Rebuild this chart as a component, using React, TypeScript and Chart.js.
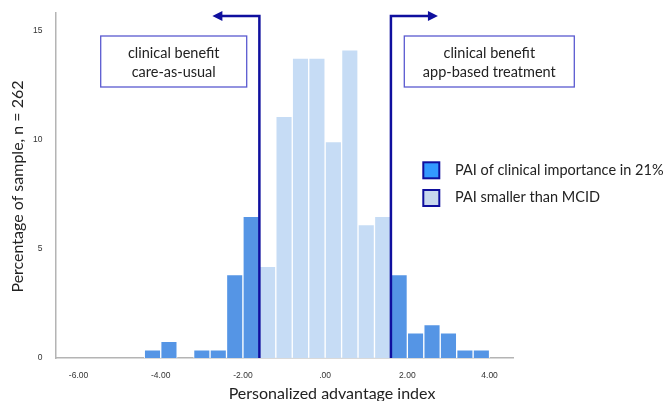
import React, { useEffect, useRef } from "react";
import { Chart, registerables } from "chart.js";

Chart.register(...registerables);

// Histogram bins (width 0.4) of the personalized advantage index
const binCenters = [
  -4.2, -3.8, -3.4, -3.0, -2.6, -2.2, -1.8, -1.4, -1.0, -0.6, -0.2,
  0.2, 0.6, 1.0, 1.4, 1.8, 2.2, 2.6, 3.0, 3.4, 3.8,
];
const percentOfSample = [
  0.38, 0.76, 0, 0.38, 0.38, 3.82, 6.49, 4.2, 11.07, 13.74, 13.74,
  9.92, 14.12, 6.11, 6.49, 3.82, 1.15, 1.53, 1.15, 0.38, 0.38,
];
const xTickValues = [-6, -4, -2, 0, 2, 4];
const yTickValues = [0, 5, 10, 15];
const mcidThresholds = [-1.6, 1.6];
const legendLabels = ["PAI of clinical importance in 21%", "PAI smaller than MCID"];
const boxLabels = [
  ["clinical benefit", "care-as-usual"],
  ["clinical benefit", "app-based treatment"],
];
const xTitle = "Personalized advantage index";
const yTitle = "Percentage of sample, n = 262";

const DARK = "#5595e5";
const LIGHT = "#c6dcf5";
const NAVY = "#0f0f9e";
const BOX = "#5a5ad0";
const TEXT = "#222222";
const FONT = "Lato, 'Open Sans', sans-serif";

const overlay = {
  id: "overlay",
  afterDraw(chart: any) {
    const { ctx } = chart;
    const x = chart.scales.x;
    const y = chart.scales.y;
    ctx.save();

    // MCID lines with arrows
    const yBottom = y.getPixelForValue(0);
    const yTop = 16;
    mcidThresholds.forEach((t) => {
      const px = x.getPixelForValue(t);
      const dir = t < 0 ? -1 : 1;
      const tip = px + dir * 47;
      ctx.strokeStyle = NAVY;
      ctx.lineWidth = 2.5;
      ctx.lineJoin = "miter";
      ctx.beginPath();
      ctx.moveTo(px, yBottom);
      ctx.lineTo(px, yTop);
      ctx.lineTo(tip - dir * 8, yTop);
      ctx.stroke();
      ctx.fillStyle = NAVY;
      ctx.beginPath();
      ctx.moveTo(tip, yTop);
      ctx.lineTo(tip - dir * 10, yTop - 5);
      ctx.lineTo(tip - dir * 10, yTop + 5);
      ctx.closePath();
      ctx.fill();
    });

    // Annotation boxes
    const boxes = [
      { x: 100.7, y: 36, w: 146, h: 51 },
      { x: 404.3, y: 36, w: 170, h: 51 },
    ];
    boxes.forEach((b, i) => {
      ctx.fillStyle = "#ffffff";
      ctx.fillRect(b.x, b.y, b.w, b.h);
      ctx.strokeStyle = BOX;
      ctx.lineWidth = 1.3;
      ctx.strokeRect(b.x, b.y, b.w, b.h);
      ctx.fillStyle = TEXT;
      ctx.font = `14.5px ${FONT}`;
      ctx.textAlign = "center";
      ctx.textBaseline = "middle";
      ctx.fillText(boxLabels[i][0], b.x + b.w / 2, 53);
      ctx.fillText(boxLabels[i][1], b.x + b.w / 2, 72.7);
    });

    // Legend
    const legendRows = [
      { y: 162.3, color: "#3399ff", ty: 170.7 },
      { y: 190, color: "#c8d8ee", ty: 197 },
    ];
    legendRows.forEach((r, i) => {
      ctx.fillStyle = r.color;
      ctx.fillRect(423.3, r.y, 16, 16);
      ctx.strokeStyle = NAVY;
      ctx.lineWidth = 2;
      ctx.strokeRect(423.3, r.y, 16, 16);
      ctx.fillStyle = TEXT;
      ctx.font = `14.5px ${FONT}`;
      ctx.textAlign = "left";
      ctx.textBaseline = "middle";
      ctx.fillText(legendLabels[i], 455, r.ty);
    });

    // Axis titles
    ctx.fillStyle = TEXT;
    ctx.font = `16px ${FONT}`;
    ctx.textAlign = "center";
    ctx.textBaseline = "middle";
    ctx.fillText(xTitle, 332, 394);
    ctx.save();
    ctx.translate(18, 186.5);
    ctx.rotate(-Math.PI / 2);
    ctx.fillText(yTitle, 0, 0);
    ctx.restore();

    ctx.restore();
  },
};

export default function App() {
  const canvasRef = useRef<HTMLCanvasElement | null>(null);

  useEffect(() => {
    document.body.style.margin = "0";
    const canvas = canvasRef.current;
    if (!canvas) return;
    const chart = new Chart(canvas, {
      type: "bar",
      data: {
        datasets: [
          {
            label: "Percentage",
            data: binCenters.map((c, i) => ({ x: c, y: percentOfSample[i] })),
            backgroundColor: binCenters.map((c) =>
              c < mcidThresholds[0] || c > mcidThresholds[1] ? DARK : LIGHT
            ),
            borderColor: "rgba(255,255,255,0.85)",
            borderWidth: 1,
            borderSkipped: "start",
            barPercentage: 1,
            categoryPercentage: 1,
          },
        ],
      },
      options: {
        responsive: false,
        animation: false,
        layout: { padding: { left: 0, top: 13, right: 154, bottom: 0 } },
        plugins: {
          legend: { display: false },
          tooltip: { enabled: false },
          title: { display: false },
        },
        scales: {
          x: {
            type: "linear",
            offset: false,
            min: -6.56,
            max: 4.57,
            grid: { display: false, offset: false },
            border: { display: true, color: "#b4b4b4", width: 1.5 },
            afterBuildTicks: (scale: any) => {
              scale.ticks = xTickValues.map((v) => ({ value: v }));
            },
            afterFit: (scale: any) => {
              scale.height = 43;
            },
            ticks: {
              padding: 5,
              color: "#333",
              font: { family: "'Liberation Sans', Arial, sans-serif", size: 8.5 },
              maxRotation: 0,
              autoSkip: false,
              callback: (v: any) => (Number(v) === 0 ? ".00" : Number(v).toFixed(2)),
            },
          },
          y: {
            min: 0,
            max: 15.81,
            grid: { display: false },
            border: { display: true, color: "#b4b4b4", width: 1.5 },
            afterBuildTicks: (scale: any) => {
              scale.ticks = yTickValues.map((v) => ({ value: v }));
            },
            afterFit: (scale: any) => {
              scale.width = 55.5;
            },
            ticks: {
              padding: 5,
              color: "#333",
              font: { family: "'Liberation Sans', Arial, sans-serif", size: 8.5 },
              callback: (v: any) => String(v),
            },
          },
        },
      },
      plugins: [overlay],
    });
    return () => chart.destroy();
  }, []);

  return (
    <div style={{ width: 667, height: 401, position: "relative", background: "#fff" }}>
      <canvas ref={canvasRef} width={667} height={401} style={{ display: "block", width: 667, height: 401 }} />
    </div>
  );
}
